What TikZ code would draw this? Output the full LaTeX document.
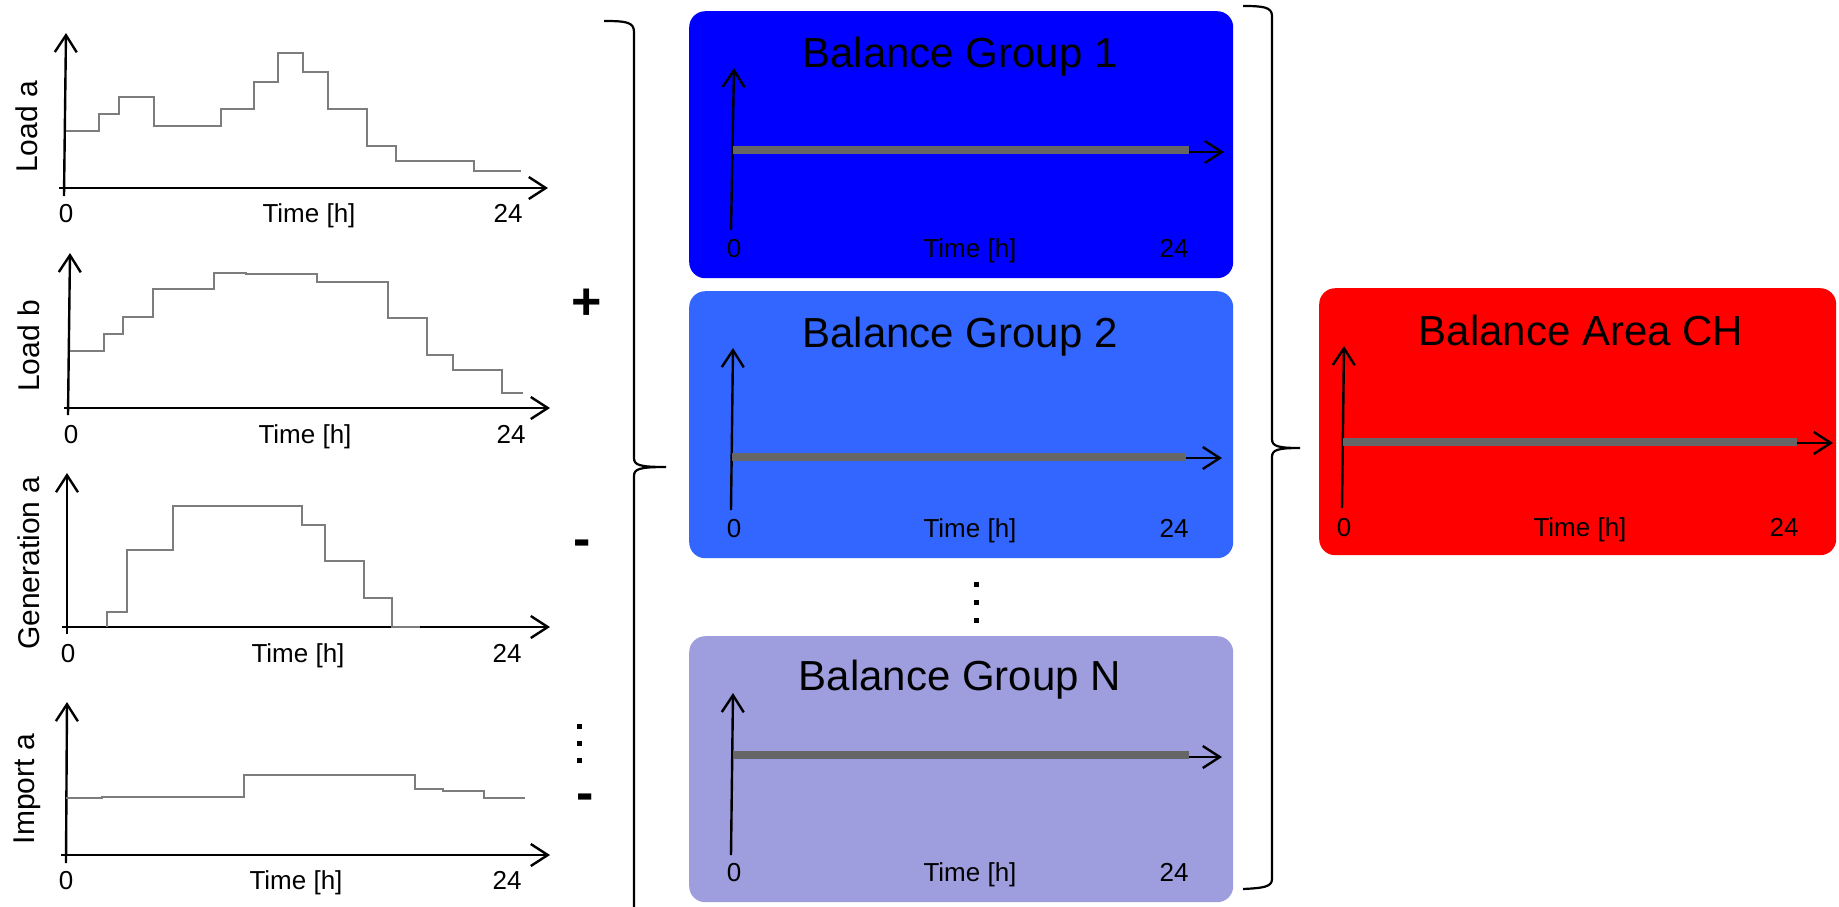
\documentclass[tikz,border=0pt]{standalone}
\usepackage{fontspec}
\setmainfont{Liberation Sans}
\usetikzlibrary{arrows.meta}
\definecolor{bgone}{RGB}{0,0,255}
\definecolor{bgtwo}{RGB}{51,102,255}
\definecolor{bgn}{RGB}{158,157,222}
\definecolor{bgred}{RGB}{255,0,0}
\definecolor{prof}{RGB}{125,125,125}
\definecolor{flat}{RGB}{102,102,102}
\begin{document}
\begin{tikzpicture}[x=1pt,y=-1pt,
  ax/.style={line width=2.4pt,-{Straight Barb[length=17pt,width=22pt]}},
  profile/.style={draw=prof,line width=2.2pt},
  flatline/.style={draw=flat,line width=8pt},
  bgbox/.style={rounded corners=16pt,draw=none,inner sep=0pt,anchor=north west},
  ttl/.style={font=\fontsize{42}{48}\selectfont,inner sep=0pt,anchor=base},
  lbl/.style={font=\fontsize{26}{30}\selectfont,inner sep=0pt,anchor=base},
  side/.style={font=\fontsize{30}{34}\selectfont,inner sep=0pt,rotate=90},
  sign/.style={font=\fontsize{52}{56}\selectfont\bfseries,inner sep=0pt},
  brace/.style={line width=2.2pt},
  dotsq/.style={fill=black,inner sep=0pt,minimum size=5pt}
]
\useasboundingbox (0,0) rectangle (1839,906);
\fill[white] (0,0) rectangle (1839,906);

% ---------- left charts ----------
% Load a
\draw[ax] (59,188) -- (548,188);
\draw[ax] (64,196) -- (66,33);
\draw[profile] (66,131)--(99,131)--(99,114)--(119,114)--(119,97)--(154,97)--(154,126)--(221,126)--(221,109)--(254,109)--(254,82)--(278,82)--(278,53)--(303,53)--(303,72)--(328,72)--(328,109)--(367,109)--(367,146)--(396,146)--(396,161)--(474,161)--(474,171)--(521,171);
\node[lbl] (a0) at (66,222) {0};
\node[lbl] (at) at (309,222) {Time [h]};
\node[lbl] (a24) at (508,222) {24};
\node[side] (al) at (27,127) {Load a};

% Load b
\draw[ax] (64,408) -- (550,408);
\draw[ax] (68,415) -- (70,253);
\draw[profile] (70,351)--(104,351)--(104,334)--(123,334)--(123,317)--(153,317)--(153,289)--(214,289)--(214,273)--(246,273)--(246,274)--(317,274)--(317,282)--(388,282)--(388,318)--(427,318)--(427,355)--(453,355)--(453,370)--(502,370)--(502,393)--(523,393);
\node[lbl] (b0) at (71,443) {0};
\node[lbl] (bt) at (305,443) {Time [h]};
\node[lbl] (b24) at (511,443) {24};
\node[side] (bl) at (29,346) {Load b};

% Generation a
\draw[ax] (62,627) -- (550,627);
\draw[ax] (67,634) -- (67,473);
\draw[profile] (107,627)--(107,612)--(127,612)--(127,550)--(173,550)--(173,506)--(302,506)--(302,525)--(325,525)--(325,561)--(364,561)--(364,598)--(392,598)--(392,627)--(420,627);
\node[lbl] (g0) at (68,662) {0};
\node[lbl] (gt) at (298,662) {Time [h]};
\node[lbl] (g24) at (507,662) {24};
\node[side] (gl) at (29,563) {Generation a};

% Import a
\draw[ax] (61,855) -- (550,855);
\draw[ax] (66,863) -- (67,702);
\draw[profile] (66,798)--(102,798)--(102,797)--(244,797)--(244,775)--(415,775)--(415,789)--(443,789)--(443,791)--(484,791)--(484,798)--(525,798);
\node[lbl] (i0) at (66,889) {0};
\node[lbl] (it) at (296,889) {Time [h]};
\node[lbl] (i24) at (507,889) {24};
\node[side] (il) at (27,789) {Import a};

% signs
\node[sign] (plus) at (587,304) {+};
\node[sign] (minusa) at (582,548) {-};
\node[sign] (minusb) at (585,802) {-};
\node[dotsq] (ld1) at (579,726) {};
\node[dotsq] (ld2) at (579,743) {};
\node[dotsq] (ld3) at (579,760) {};

% left brace
\draw[brace] (604,21) .. controls (626,21) and (634,22) .. (634,32) -- (634,458)
  .. controls (634,465) and (639,467) .. (666,467)
  .. controls (639,467) and (634,469) .. (634,476) -- (634,910);

% ---------- balance groups ----------
\node[bgbox,fill=bgone,minimum width=544pt,minimum height=267pt] (bg1) at (689,11) {};
\node[ttl] (t1) at (960,67) {Balance Group 1};
\draw[ax] (731,230) -- (734,68);
\draw[ax] (733,152) -- (1224,152);
\draw[flatline] (733,150) -- (1189,150);
\node[lbl] (c10) at (734,257) {0};
\node[lbl] (c1t) at (970,257) {Time [h]};
\node[lbl] (c124) at (1174,257) {24};

\node[bgbox,fill=bgtwo,minimum width=544pt,minimum height=267pt] (bg2) at (689,291) {};
\node[ttl] (t2) at (960,347) {Balance Group 2};
\draw[ax] (731,510) -- (733,348);
\draw[ax] (732,458) -- (1222,458);
\draw[flatline] (732,457) -- (1186,457);
\node[lbl] (c20) at (734,537) {0};
\node[lbl] (c2t) at (970,537) {Time [h]};
\node[lbl] (c224) at (1174,537) {24};

\node[dotsq] (md1) at (976,584) {};
\node[dotsq] (md2) at (976,602) {};
\node[dotsq] (md3) at (976,620) {};

\node[bgbox,fill=bgn,minimum width=544pt,minimum height=266pt] (bgN) at (689,636) {};
\node[ttl] (tN) at (960,690) {Balance Group N};
\draw[ax] (731,855) -- (733,693);
\draw[ax] (733,757) -- (1222,757);
\draw[flatline] (733,755) -- (1189,755);
\node[lbl] (cN0) at (734,881) {0};
\node[lbl] (cNt) at (970,881) {Time [h]};
\node[lbl] (cN24) at (1174,881) {24};

% right brace
\draw[brace] (1243,6) .. controls (1263,6) and (1272,7) .. (1272,16) -- (1272,439)
  .. controls (1272,446) and (1277,448) .. (1300,448)
  .. controls (1277,448) and (1272,450) .. (1272,457) -- (1272,879)
  .. controls (1272,887) and (1263,888) .. (1243,889);

% ---------- balance area ----------
\node[bgbox,fill=bgred,minimum width=517pt,minimum height=267pt] (bgR) at (1319,288) {};
\node[ttl] (tR) at (1581,345) {Balance Area CH};
\draw[ax] (1342,508) -- (1344,346);
\draw[ax] (1343,443) -- (1833,443);
\draw[flatline] (1343,442) -- (1797,442);
\node[lbl] (r0) at (1344,536) {0};
\node[lbl] (rt) at (1580,536) {Time [h]};
\node[lbl] (r24) at (1784,536) {24};
\end{tikzpicture}
\end{document}
